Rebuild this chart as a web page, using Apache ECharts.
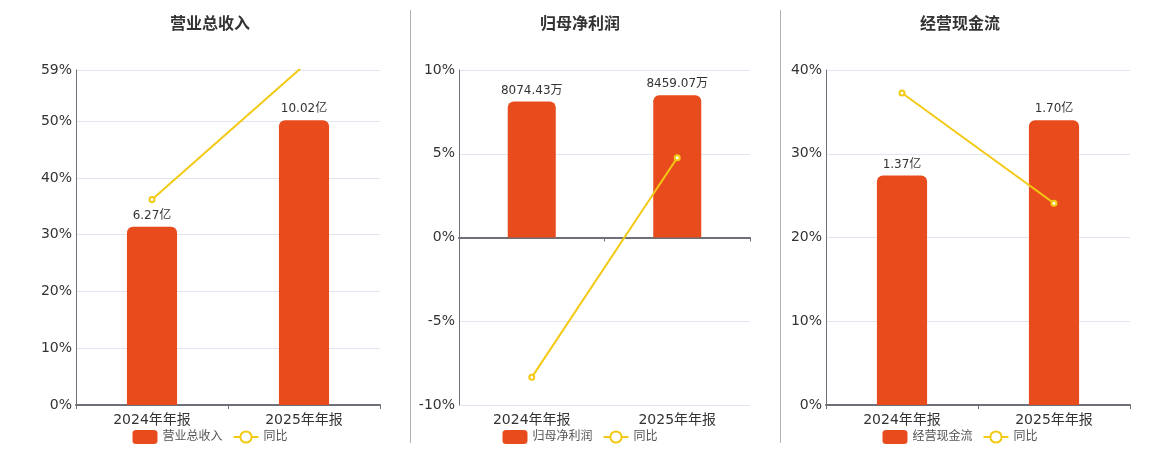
<!DOCTYPE html>
<html lang="zh">
<head>
	<meta charset="UTF-8">
	<title>财务概览</title>
	<style>
		html, body { margin: 0; padding: 0; background: #fff; }
		#wrap { position: relative; width: 1160px; height: 450px; overflow: hidden; }
		.chart { position: absolute; top: 0; height: 450px; }
		.sep { position: absolute; top: 10px; height: 433px; width: 0; border-left: 1px solid #b0b0b0; }
	</style>
</head>
<body>
	<div id="wrap">
		<div id="c1" class="chart" style="left:0;width:420px;"></div>
		<div id="c2" class="chart" style="left:400px;width:360px;"></div>
		<div id="c3" class="chart" style="left:780px;width:360px;"></div>
		<div class="sep" style="left:410px;"></div>
		<div class="sep" style="left:780px;"></div>
	</div>

	<script src="https://cdn.jsdelivr.net/npm/echarts@6/dist/echarts.min.js"></script>
	<script>
		// 数据
		var categories = ['2024年年报', '2025年年报'];

		var revenue = [6.27, 10.02];          // 营业总收入（亿）
		var revenueYoy = [36.2, 59.81];       // 同比 %
		var profit = [8074.43, 8459.07];      // 归母净利润（万）
		var profitYoy = [-8.35, 4.76];
		var cash = [1.37, 1.70];              // 经营现金流（亿）
		var cashYoy = [37.25, 24.09];

		var FONT = '"DejaVu Sans", "Noto Sans CJK SC", sans-serif';
		var BAR_COLOR = '#e84c1c';
		var LINE_COLOR = '#f3c913';

		function makeOption(cfg) {
			var absMax = Math.max.apply(null, cfg.bars.map(Math.abs));
			var barMax = absMax / 0.85;
			return {
				textStyle: { fontFamily: FONT },
				title: {
					text: cfg.title,
					left: 'center',
					top: 12,
					textStyle: { fontSize: 16, fontWeight: 'bold', color: '#333', fontFamily: FONT }
				},
				legend: {
					bottom: 1,
					left: 'center',
					itemWidth: 25,
					itemHeight: 14,
					itemGap: 10,
					textStyle: { fontSize: 12, color: '#555', fontFamily: FONT },
					data: [cfg.name, '同比']
				},
				grid: cfg.grid,
				xAxis: [{
					type: 'category',
					data: categories,
					axisLine: { onZero: true, lineStyle: { color: '#6e7079', width: 2 } },
					axisTick: { show: true, length: 4, lineStyle: { color: '#6e7079' } },
					axisLabel: { show: false }
				}, {
					type: 'category',
					data: categories,
					position: 'bottom',
					axisLine: { show: false, onZero: false },
					axisTick: { show: false },
					axisLabel: { fontSize: 14, color: '#333', margin: 8 }
				}],
				yAxis: [{
					type: 'value',
					min: cfg.pctMin,
					max: cfg.pctMax,
					interval: cfg.pctStep,
					axisLine: { show: true, lineStyle: { color: '#6e7079' } },
					axisTick: { show: false },
					axisLabel: { formatter: '{value}%', fontSize: 14, color: '#333', margin: 4, padding: [3, 0, 0, 0] },
					splitLine: { lineStyle: { color: '#e0e6f1' } }
				}, {
					type: 'value',
					show: false,
					min: cfg.pctMin < 0 ? -barMax : 0,
					max: barMax,
					splitLine: { show: false }
				}],
				series: [{
					name: cfg.name,
					type: 'bar',
					yAxisIndex: 1,
					barWidth: '33%',
					data: cfg.bars,
					itemStyle: { color: BAR_COLOR, borderRadius: [6, 6, 0, 0] },
					label: {
						show: true,
						position: 'top',
						distance: 5,
						fontSize: 12,
						color: '#333',
						formatter: function (p) { return p.value.toFixed(2) + cfg.unit; }
					}
				}, {
					name: '同比',
					type: 'line',
					yAxisIndex: 0,
					data: cfg.yoy,
					symbol: 'emptyCircle',
					symbolSize: 5,
					z: 5,
					lineStyle: { color: LINE_COLOR, width: 2 },
					itemStyle: { color: LINE_COLOR, borderWidth: 1.5 }
				}]
			};
		}

		var chart1 = echarts.init(document.getElementById('c1'));
		chart1.setOption(makeOption({
			title: '营业总收入', name: '营业总收入', unit: '亿',
			bars: revenue, yoy: revenueYoy,
			pctMin: 0, pctMax: 59, pctStep: 10,
			grid: { left: 76, right: 40, top: 70, bottom: 45 }
		}));

		var chart2 = echarts.init(document.getElementById('c2'));
		chart2.setOption(makeOption({
			title: '归母净利润', name: '归母净利润', unit: '万',
			bars: profit, yoy: profitYoy,
			pctMin: -10, pctMax: 10, pctStep: 5,
			grid: { left: 59, right: 10, top: 70, bottom: 45 }
		}));

		var chart3 = echarts.init(document.getElementById('c3'));
		chart3.setOption(makeOption({
			title: '经营现金流', name: '经营现金流', unit: '亿',
			bars: cash, yoy: cashYoy,
			pctMin: 0, pctMax: 40, pctStep: 10,
			grid: { left: 46, right: 10, top: 70, bottom: 45 }
		}));
	</script>
</body>
</html>
